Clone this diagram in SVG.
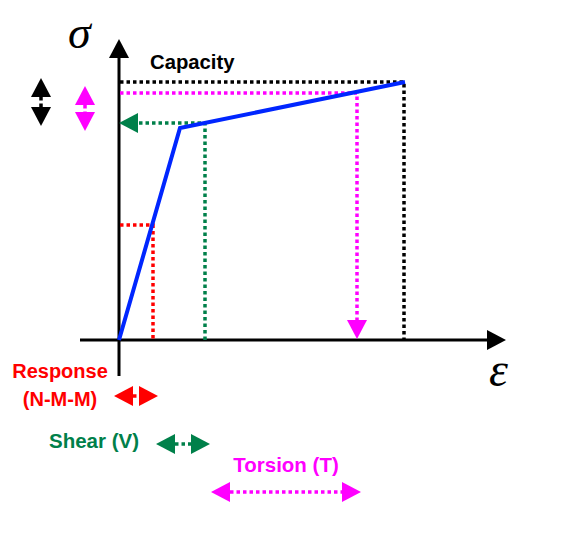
<svg xmlns="http://www.w3.org/2000/svg" width="586" height="541" viewBox="0 0 586 541">
<style>
  .lbl { font-family: "Liberation Sans", Arial, sans-serif; font-weight: bold; }
  .sym { font-family: "Liberation Serif", "DejaVu Serif", serif; font-style: italic; fill: #000; }
  .ax { stroke: #000; stroke-width: 3; fill: none; }
  .dot { stroke-width: 3.5; stroke-dasharray: 3.5 3; fill: none; }
</style>
<defs>
  <marker id="aK" markerUnits="userSpaceOnUse" markerWidth="20" markerHeight="20" refX="0" refY="10" orient="auto-start-reverse" viewBox="0 0 19 20">
    <path d="M0,0 L19,10 L0,20 Z" fill="#000"/>
  </marker>
  <marker id="aM" markerUnits="userSpaceOnUse" markerWidth="20" markerHeight="20" refX="0" refY="10" orient="auto-start-reverse" viewBox="0 0 19 20">
    <path d="M0,0 L19,10 L0,20 Z" fill="#FF00FF"/>
  </marker>
  <marker id="aR" markerUnits="userSpaceOnUse" markerWidth="20" markerHeight="20" refX="0" refY="10" orient="auto-start-reverse" viewBox="0 0 19 20">
    <path d="M0,0 L19,10 L0,20 Z" fill="#FF0000"/>
  </marker>
  <marker id="aG" markerUnits="userSpaceOnUse" markerWidth="20" markerHeight="20" refX="0" refY="10" orient="auto-start-reverse" viewBox="0 0 19 20">
    <path d="M0,0 L19,10 L0,20 Z" fill="#00804A"/>
  </marker>
</defs>
<rect width="586" height="541" fill="#fff"/>

<g id="axes">
  <line class="ax" x1="119" y1="376" x2="119" y2="58" marker-end="url(#aK)"/>
  <line class="ax" x1="80" y1="340" x2="487" y2="340" marker-end="url(#aK)"/>
  <text class="sym" x="68" y="48" font-size="46">σ</text>
  <text class="sym" x="489" y="386" font-size="48">ε</text>
</g>

<g id="connectors">
  <polyline class="dot" stroke="#000" points="120,82 404,82 404,340"/>
  <polyline class="dot" stroke="#FF00FF" points="120,93 357,93 357,320" marker-end="url(#aM)"/>
  <polyline class="dot" stroke="#00804A" points="205,340 205,123 138,123" marker-end="url(#aG)"/>
  <polyline class="dot" stroke="#FF0000" points="120,225 153,225 153,340"/>
</g>

<g id="curve">
  <polyline points="119,340 180,128 405,82" fill="none" stroke="#0026FF" stroke-width="4" stroke-linejoin="miter"/>
</g>

<g id="capacity">
  <text class="lbl" x="150" y="69" font-size="20.3" fill="#000">Capacity</text>
</g>

<g id="legend-black">
  <line class="dot" stroke="#000" x1="41" y1="97" x2="41" y2="107" marker-start="url(#aK)" marker-end="url(#aK)"/>
</g>
<g id="legend-magenta-v">
  <line class="dot" stroke="#FF00FF" x1="85" y1="105" x2="85" y2="112" marker-start="url(#aM)" marker-end="url(#aM)"/>
</g>

<g id="response">
  <text class="lbl" x="60" y="378" font-size="20" fill="#FF0000" text-anchor="middle">Response</text>
  <text class="lbl" x="60" y="406" font-size="20" fill="#FF0000" text-anchor="middle">(N-M-M)</text>
  <line class="dot" stroke="#FF0000" x1="133" y1="396" x2="139" y2="396" marker-start="url(#aR)" marker-end="url(#aR)"/>
</g>

<g id="shear">
  <text class="lbl" x="94" y="448" font-size="20.5" fill="#00804A" text-anchor="middle">Shear (V)</text>
  <line class="dot" stroke="#00804A" x1="175" y1="444" x2="191" y2="444" marker-start="url(#aG)" marker-end="url(#aG)"/>
</g>

<g id="torsion">
  <text class="lbl" x="286" y="472" font-size="20.5" fill="#FF00FF" text-anchor="middle">Torsion (T)</text>
  <line class="dot" stroke="#FF00FF" x1="230" y1="492" x2="342" y2="492" marker-start="url(#aM)" marker-end="url(#aM)"/>
</g>
</svg>
